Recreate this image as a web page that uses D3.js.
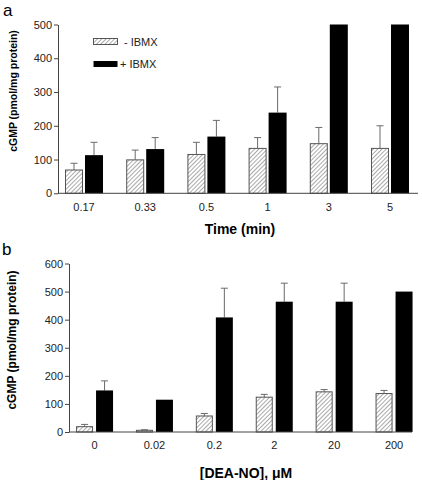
<!DOCTYPE html>
<html><head><meta charset="utf-8">
<script src="https://cdn.jsdelivr.net/npm/d3@7"></script>
<style>body{margin:0;background:#fff}svg{display:block;font-family:Arial,"Liberation Sans",sans-serif}</style>
</head><body><svg id="c" width="422" height="480"></svg>
<script>
// Panel a data
const timeCats = ["0.17","0.33","0.5","1","3","5"];
const aMinus = [69, 99, 115, 133, 147, 133];
const aMinusErr = [20, 29, 36, 32, 48, 67];
const aPlus = [113, 131, 168, 239, 500, 500];
const aPlusErr = [38, 34, 48, 76, 0, 0];
const aTicks = [0, 100, 200, 300, 400, 500];
// Panel b data
const doseCats = ["0","0.02","0.2","2","20","200"];
const bMinus = [19, 6, 57, 124, 143, 137];
const bMinusErr = [8, 2, 9, 10, 8, 11];
const bPlus = [148, 115, 408, 464, 464, 500];
const bPlusErr = [34, 0, 104, 66, 66, 0];
const bTicks = [0, 100, 200, 300, 400, 500, 600];
const seriesNames = ["- IBMX", "+ IBMX"];

const svg = d3.select("#c");
const defs = svg.append("defs");
const pat = defs.append("pattern").attr("id","hatch").attr("patternUnits","userSpaceOnUse")
  .attr("width",3).attr("height",3).attr("patternTransform","rotate(45)");
pat.append("rect").attr("width",3).attr("height",3).attr("fill","#fff");
pat.append("line").attr("x1",0).attr("y1",0).attr("x2",0).attr("y2",3).attr("stroke","#555").attr("stroke-width",1);

const axisCol = "#444", errCol = "#6a6a6a";

function panel(o){
  const g = svg.append("g");
  const x = d3.scaleBand().domain(o.cats).range(o.xr).padding(0);
  const sub = d3.scaleBand().domain([0,1]).range([0,o.gw]).paddingInner(o.pin);
  const y = d3.scaleLinear().domain([0,o.max]).range(o.yr);
  const off = c => x(c) + x.bandwidth()/2 - o.gw/2;
  const series = [{v:o.minus,e:o.minusErr,fill:"url(#hatch)",stroke:"#555"},{v:o.plus,e:o.plusErr,fill:"#000",stroke:"#000"}];
  series.forEach((s,si)=>{
    const eg = g.append("g");
    o.cats.forEach((c,i)=>{
      if(!s.e[i]) return;
      const cx = off(c)+sub(si)+sub.bandwidth()/2;
      eg.append("line").attr("x1",cx).attr("x2",cx).attr("y1",y(s.v[i])).attr("y2",y(s.v[i]+s.e[i])).attr("stroke",errCol).attr("stroke-width",1);
      eg.append("line").attr("x1",cx-3.5).attr("x2",cx+3.5).attr("y1",y(s.v[i]+s.e[i])).attr("y2",y(s.v[i]+s.e[i])).attr("stroke",errCol).attr("stroke-width",1);
    });
    g.append("g").selectAll("rect").data(o.cats).join("rect")
      .attr("x",(c)=>off(c)+sub(si)+(si===0?0.5:0))
      .attr("width",sub.bandwidth()-(si===0?1:0))
      .attr("y",(c,i)=>y(s.v[i]))
      .attr("height",(c,i)=>y(0)-y(s.v[i]))
      .attr("fill",s.fill).attr("stroke",si===0?s.stroke:"none").attr("stroke-width",1);
  });
  const ya = g.append("g").attr("transform",`translate(${o.ax},0)`)
    .call(d3.axisLeft(y).tickValues(o.ticks).tickSize(4).tickSizeOuter(0).tickPadding(2));
  ya.select(".domain").attr("stroke",axisCol);
  ya.selectAll(".tick line").attr("stroke",axisCol);
  ya.selectAll("text").attr("font-size",o.tfs).attr("fill","#222").attr("font-family","Arial,'Liberation Sans',sans-serif");
  const xa = g.append("g").attr("transform",`translate(0,${o.yr[0]})`)
    .call(d3.axisBottom(x).tickSize(0).tickPadding(o.xpad));
  xa.select(".domain").remove();
  g.append("line").attr("x1",o.ax).attr("x2",o.axEnd).attr("y1",o.yr[0]).attr("y2",o.yr[0]).attr("stroke",axisCol).attr("stroke-width",1);
  xa.selectAll("text").attr("font-size",11).attr("fill","#222").attr("font-family","Arial,'Liberation Sans',sans-serif");
  g.append("text").attr("x",o.xtx).attr("y",o.xty).attr("text-anchor","middle").attr("font-weight","bold").attr("font-size",14).text(o.xtitle);
  g.append("text").attr("transform",`translate(${o.ytx},${o.yty}) rotate(-90)`).attr("text-anchor","middle")
    .attr("font-weight","bold").attr("font-size",o.yfs).text("cGMP (pmol/mg protein)");
  g.append("text").attr("x",o.lx).attr("y",o.ly).attr("font-size",17).text(o.letter);
  return g;
}

panel({cats:timeCats,minus:aMinus,minusErr:aMinusErr,plus:aPlus,plusErr:aPlusErr,ticks:aTicks,max:500,
  xr:[53.4,420.6],gw:38,pin:0.1,yr:[193.3,24.5],ax:58,axEnd:418,tfs:11,xpad:10,
  xtitle:"Time (min)",xtx:240,xty:234,ytx:17,yty:91,yfs:10.5,letter:"a",lx:3,ly:16});

panel({cats:doseCats,minus:bMinus,minusErr:bMinusErr,plus:bPlus,plusErr:bPlusErr,ticks:bTicks,max:600,
  xr:[64.6,424],gw:37,pin:0.15,yr:[432,263.5],ax:69,axEnd:412,tfs:11,xpad:9,
  xtitle:"[DEA-NO], \u03bcM",xtx:246,xty:478,ytx:16,yty:340,yfs:12,letter:"b",lx:2,ly:255});

const leg = svg.append("g");
const legY = [41.5, 64];
seriesNames.forEach((n,i)=>{
  leg.append("rect").attr("x",93.5).attr("y",legY[i]-3).attr("width",24).attr("height",6)
    .attr("fill",i===0?"url(#hatch)":"#000").attr("stroke",i===0?"#555":"none");
  leg.append("text").attr("x",i===0?124:120).attr("y",legY[i]+4).attr("font-size",11).attr("fill","#222").text(n);
});
</script></body></html>
